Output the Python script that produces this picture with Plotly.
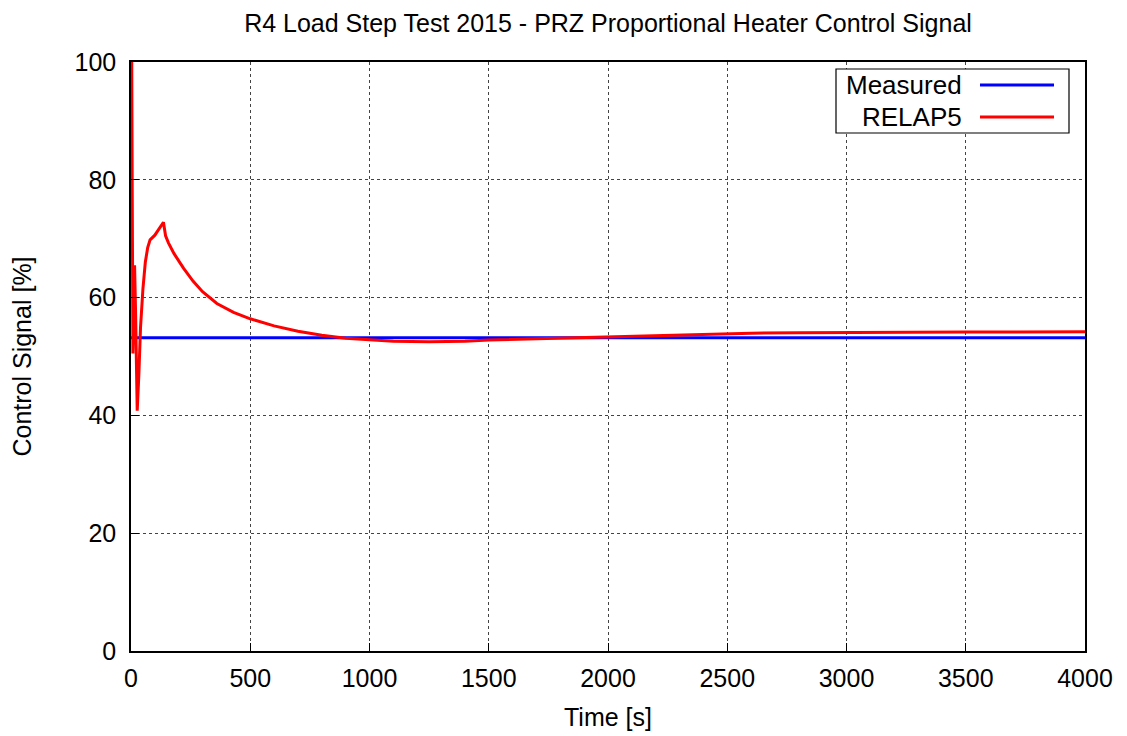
import plotly.graph_objects as go

# Data
measured_t = [0, 4000]
measured_v = [53.2, 53.2]

relap_t = [0, 3, 8, 15, 19, 26, 33, 40, 50, 60, 70, 80, 100, 120, 136, 145, 157, 180,
           220, 260, 300, 360, 430, 500, 600, 700, 800, 900, 1000, 1100, 1250, 1400,
           1500, 1700, 2000, 2200, 2400, 2600, 2800, 3000, 3500, 4000]
relap_v = [88, 100, 50.5, 65.5, 58, 40.8, 47, 55, 61.5, 66, 68.5, 69.8, 70.6, 71.8, 72.8,
           70.5, 69.3, 67.5, 65, 62.8, 61, 59, 57.5, 56.4, 55.2, 54.3, 53.6, 53.1, 52.8,
           52.6, 52.5, 52.6, 52.8, 53.0, 53.4, 53.6, 53.8, 53.95, 54.05, 54.1, 54.15, 54.2]

x_ticks = [0, 500, 1000, 1500, 2000, 2500, 3000, 3500, 4000]
y_ticks = [0, 20, 40, 60, 80, 100]

title = "R4 Load Step Test 2015 - PRZ Proportional Heater Control Signal"
x_title = "Time [s]"
y_title = "Control Signal [%]"
names = ["Measured", "RELAP5"]
colors = ["#0000ff", "#ff0000"]

FONT = "Liberation Sans, Arial, sans-serif"

# Page body has an 8px default margin; compensate so plot area lands at
# x 131..1085, y 62..651 in the 1127x736 window.
OFF = 8
W, H = 1127 - OFF, 736 - OFF
pl, pr, pt, pb = 131, 1085, 62, 651

fig = go.Figure()
fig.add_trace(go.Scatter(x=measured_t, y=measured_v, mode="lines", name=names[0],
                         line=dict(color=colors[0], width=3), showlegend=False))
fig.add_trace(go.Scatter(x=relap_t, y=relap_v, mode="lines", name=names[1],
                         line=dict(color=colors[1], width=3), showlegend=False))

axis_common = dict(
    showline=True, mirror=True, linecolor="black", linewidth=1.5,
    showgrid=True, gridcolor="#444444", griddash="dot", gridwidth=1,
    ticks="inside", ticklen=8, tickcolor="black",
    zeroline=False, automargin=False,
    tickfont=dict(size=25, color="black", family=FONT),
)

fig.update_layout(
    width=W, height=H,
    plot_bgcolor="white", paper_bgcolor="white",
    margin=dict(l=pl - OFF, r=1127 - pr, t=pt - OFF, b=736 - pb),
    title=dict(text=title, x=(608 - OFF) / W, xanchor="center",
               y=1 - (23 - OFF) / H, yanchor="middle",
               font=dict(size=25, color="black", family=FONT)),
    xaxis=dict(range=[0, 4000], tickvals=x_ticks, ticktext=[str(v) for v in x_ticks],
               ticklabelstandoff=4,
               title=dict(text=x_title, font=dict(size=25, color="black", family=FONT), standoff=18),
               **axis_common),
    yaxis=dict(range=[0, 100], tickvals=y_ticks, ticktext=[str(v) for v in y_ticks],
               ticklabelstandoff=8,
               title=dict(text=y_title, font=dict(size=25, color="black", family=FONT), standoff=36),
               **axis_common),
    showlegend=False,
)

# Custom gnuplot-style legend (text right-aligned, line sample to the right)
box_x0, box_x1 = 836, 1069
box_y0, box_y1 = 69, 133

def px(x):
    return (x - pl) / (pr - pl)

def py(y):
    return (pb - y) / (pb - pt)

shapes = [dict(type="rect", xref="paper", yref="paper",
               x0=px(box_x0), x1=px(box_x1), y0=py(box_y1), y1=py(box_y0),
               line=dict(color="black", width=1.2), fillcolor="white", layer="above")]
annotations = []
rows_y = [85, 117]
for name, col, ry in zip(names, colors, rows_y):
    shapes.append(dict(type="line", xref="paper", yref="paper",
                       x0=px(980), x1=px(1054), y0=py(ry), y1=py(ry),
                       line=dict(color=col, width=3), layer="above"))
    annotations.append(dict(text=name, xref="paper", yref="paper", x=px(964), y=py(ry),
                            xanchor="right", yanchor="middle", showarrow=False,
                            font=dict(size=26, color="black", family=FONT)))
fig.update_layout(shapes=shapes, annotations=annotations)

fig.write_html("out.html")
